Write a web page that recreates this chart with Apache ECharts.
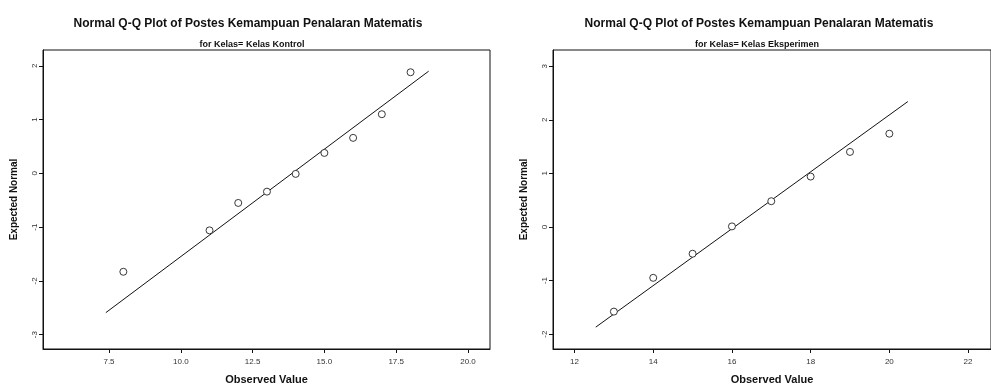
<!DOCTYPE html>
<html>
<head>
<meta charset="utf-8">
<title>Normal Q-Q Plot</title>
<script src="https://cdn.jsdelivr.net/npm/echarts@6/dist/echarts.min.js"></script>
<style>
  html, body { margin: 0; padding: 0; background: #fff; }
  #chart { width: 991px; height: 390px; }
</style>
</head>
<body>
<div id="chart"></div>
<script>
// Kelas Kontrol
const kontrolObserved = [8, 11, 12, 13, 14, 15, 16, 17, 18]
const kontrolExpected = [-1.83, -1.06, -0.55, -0.34, -0.01, 0.38, 0.66, 1.10, 1.88]
const kontrolLine = [[7.39, -2.59], [18.63, 1.90]]
const kontrolXTicks = [7.5, 10, 12.5, 15, 17.5, 20]
const kontrolYTicks = [-3, -2, -1, 0, 1, 2]

// Kelas Eksperimen
const eksperimenObserved = [13, 14, 15, 16, 17, 18, 19, 20]
const eksperimenExpected = [-1.58, -0.95, -0.50, 0.01, 0.48, 0.94, 1.40, 1.74]
const eksperimenLine = [[12.54, -1.87], [20.47, 2.34]]
const eksperimenXTicks = [12, 14, 16, 18, 20, 22]
const eksperimenYTicks = [-2, -1, 0, 1, 2, 3]

const titleText = 'Normal Q-Q Plot of Postes Kemampuan Penalaran Matematis'
const font = "'Liberation Sans', Arial, sans-serif"

const chart = echarts.init(document.getElementById('chart'))

const makeX = (gridIndex, min, max, ticks, digits) => ({
  type: 'value',
  gridIndex,
  min,
  max,
  name: 'Observed Value',
  nameLocation: 'middle',
  nameGap: 25,
  nameTextStyle: { color: '#111', fontFamily: font, fontSize: 11, fontWeight: 'bold' },
  splitLine: { show: false },
  axisLine: { onZero: false, lineStyle: { color: '#111', width: 1 } },
  axisTick: { show: true, length: 4, customValues: ticks, lineStyle: { color: '#111' } },
  axisLabel: {
    customValues: ticks,
    color: '#333',
    fontFamily: font,
    fontSize: 8,
    margin: 9,
    formatter: (v) => v.toFixed(digits)
  }
})

const makeY = (gridIndex, min, max, ticks) => ({
  type: 'value',
  gridIndex,
  min,
  max,
  name: 'Expected Normal',
  nameLocation: 'middle',
  nameGap: 24,
  nameTextStyle: { color: '#111', fontFamily: font, fontSize: 10, fontWeight: 'bold' },
  splitLine: { show: false },
  axisLine: { onZero: false, lineStyle: { color: '#111', width: 1 } },
  axisTick: { show: true, length: 4, customValues: ticks, lineStyle: { color: '#111' } },
  axisLabel: {
    customValues: ticks,
    color: '#333',
    fontFamily: font,
    fontSize: 8,
    rotate: 90,
    margin: 4,
    formatter: (v) => String(v)
  }
})

// hollow circles, thin outline
const scatter = (idx, xs, ys) => ({
  type: 'scatter',
  xAxisIndex: idx,
  yAxisIndex: idx,
  symbol: 'circle',
  symbolSize: 7,
  itemStyle: { color: '#fff', borderColor: '#222', borderWidth: 0.9, opacity: 1 },
  data: xs.map((x, i) => [x, ys[i]]),
  z: 3
})

const fitLine = (idx, pts) => ({
  type: 'line',
  xAxisIndex: idx,
  yAxisIndex: idx,
  showSymbol: false,
  lineStyle: { color: '#111', width: 1 },
  data: pts,
  z: 2
})

const option = {
  backgroundColor: '#fff',
  animation: false,
  title: [
    { text: titleText, left: 243, top: 13, textAlign: 'center',
      textStyle: { fontFamily: font, fontSize: 12, fontWeight: 'bold', color: '#111' } },
    { text: 'for Kelas= Kelas Kontrol', left: 247, top: 35, textAlign: 'center',
      textStyle: { fontFamily: font, fontSize: 9, fontWeight: 'bold', color: '#111' } },
    { text: titleText, left: 754, top: 13, textAlign: 'center',
      textStyle: { fontFamily: font, fontSize: 12, fontWeight: 'bold', color: '#111' } },
    { text: 'for Kelas= Kelas Eksperimen', left: 752, top: 35, textAlign: 'center',
      textStyle: { fontFamily: font, fontSize: 9, fontWeight: 'bold', color: '#111' } }
  ],
  grid: [
    { left: 43, top: 50, width: 447, height: 303, show: true, borderColor: '#111', borderWidth: 1, backgroundColor: 'transparent' },
    { left: 553, top: 50, width: 448, height: 303, show: true, borderColor: '#111', borderWidth: 1, backgroundColor: 'transparent' }
  ],
  xAxis: [
    makeX(0, 5.202, 20.766, kontrolXTicks, 1),
    makeX(1, 11.453, 22.583, eksperimenXTicks, 0)
  ],
  yAxis: [
    makeY(0, -3.266, 2.294, kontrolYTicks),
    makeY(1, -2.278, 3.302, eksperimenYTicks)
  ],
  series: [
    fitLine(0, kontrolLine),
    scatter(0, kontrolObserved, kontrolExpected),
    fitLine(1, eksperimenLine),
    scatter(1, eksperimenObserved, eksperimenExpected)
  ]
}

chart.setOption(option)
</script>
</body>
</html>
